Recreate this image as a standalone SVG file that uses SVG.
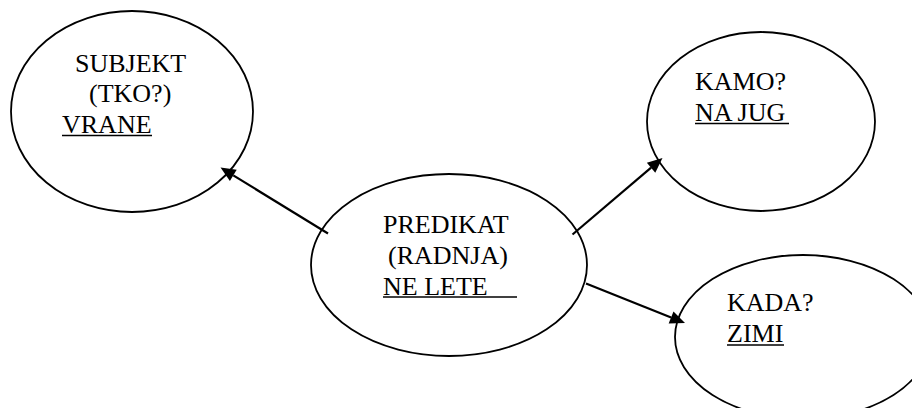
<svg xmlns="http://www.w3.org/2000/svg" width="912" height="408" viewBox="0 0 912 408">
<style>
.node{fill:#fff;stroke:#000;stroke-width:1.8}
.lbl{font-family:"Liberation Serif",Tinos,"Times New Roman",serif;font-size:26px;fill:#000}
.ul{stroke:#000;stroke-width:1.7}
.edge{stroke:#000;stroke-width:2.2;fill:none}
.head{fill:#000;stroke:none}
</style>
<rect width="912" height="408" fill="#fff"/>
<g id="subjekt">
<ellipse class="node" cx="132" cy="111.5" rx="121" ry="100.5"/>
<text class="lbl" x="75" y="72">SUBJEKT</text>
<text class="lbl" x="89" y="102">(TKO?)</text>
<text class="lbl" x="62" y="133">VRANE</text>
<line class="ul" x1="62" y1="135.5" x2="152" y2="135.5"/>
</g>
<g id="predikat">
<ellipse class="node" cx="449" cy="265" rx="138" ry="91"/>
<text class="lbl" x="383" y="233">PREDIKAT</text>
<text class="lbl" x="388" y="264">(RADNJA)</text>
<text class="lbl" x="383" y="294.5">NE LETE</text>
<line class="ul" x1="383" y1="297" x2="517" y2="297"/>
</g>
<g id="kamo">
<ellipse class="node" cx="761" cy="121.5" rx="114" ry="89.5"/>
<text class="lbl" x="695" y="90">KAMO?</text>
<text class="lbl" x="695" y="121">NA JUG</text>
<line class="ul" x1="695" y1="123.5" x2="789" y2="123.5"/>
</g>
<g id="kada">
<ellipse class="node" cx="803" cy="337" rx="128" ry="82"/>
<text class="lbl" x="727" y="311">KADA?</text>
<text class="lbl" x="727" y="342">ZIMI</text>
<line class="ul" x1="727" y1="345" x2="784" y2="345"/>
</g>
<g id="connectors">
<line class="edge" x1="328" y1="233.5" x2="233.3" y2="175.4"/>
<polygon class="head" points="220.5,167.5 236.69,169.81 229.89,180.89"/>
<line class="edge" x1="572.5" y1="234.5" x2="651.1" y2="167.7"/>
<polygon class="head" points="662.5,158 655.28,172.67 646.86,162.77"/>
<line class="edge" x1="586" y1="283.5" x2="671.1" y2="317.4"/>
<polygon class="head" points="685,323 668.66,323.48 673.48,311.40"/>
</g>
</svg>
